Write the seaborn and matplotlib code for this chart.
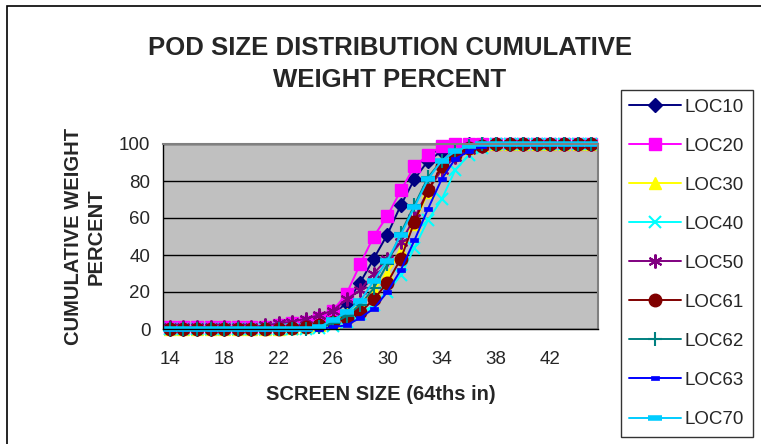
import numpy as np
import pandas as pd
import matplotlib
matplotlib.use('Agg')
import matplotlib.pyplot as plt
import seaborn as sns
from matplotlib.patches import Rectangle

# screen sizes (64ths of an inch)
sizes = list(range(14, 46))

loc10 = [0, 0, 0, 0, 0, 0, 0, 0.5, 1, 2, 3, 5, 8, 14, 25, 38,
         51, 67, 81, 91, 96, 99, 100, 100, 100, 100, 100, 100, 100, 100, 100, 100]
loc20 = [1, 1, 1, 1, 1, 1, 1, 1, 2, 3, 4, 6, 10, 19, 35, 50,
         61, 75, 88, 94, 99, 100, 100, 100, 100, 100, 100, 100, 100, 100, 100, 100]
loc30 = [0, 0, 0, 0, 0, 0, 0, 0, 0, 0.5, 1, 2, 4, 8, 13, 21,
         30, 42, 57, 74, 87, 95, 98, 99.5, 100, 100, 100, 100, 100, 100, 100, 100]
loc40 = [0, 0, 0, 0, 0, 0, 0, 0, 0, 0, 0, 0.5, 1.5, 4, 8, 13,
         20, 29, 44, 59, 70, 86, 94, 98, 100, 100, 100, 100, 100, 100, 100, 100]
loc50 = [1, 1, 1, 1, 1, 1, 1, 2, 3, 4, 5.5, 7.5, 10, 16, 21, 30,
         38, 47, 60, 75, 86, 93, 97, 99, 100, 100, 100, 100, 100, 100, 100, 100]
loc61 = [0, 0, 0, 0, 0, 0, 0, 0, 0, 0.5, 1, 2, 4, 6, 9, 16,
         25, 38, 58, 75, 88, 94, 98, 99, 100, 100, 100, 100, 100, 100, 100, 100]
loc62 = [0, 0, 0, 0, 0, 0, 0, 0, 0, 0, 0, 1, 3, 7, 13, 22,
         35, 52, 67, 82, 91, 96, 99, 100, 100, 100, 100, 100, 100, 100, 100, 100]
loc63 = [0, 0, 0, 0, 0, 0, 0, 0, 0, 0, 0, 0, 1, 2, 6, 11,
         20, 32, 48, 65, 81, 92, 96, 99, 100, 100, 100, 100, 100, 100, 100, 100]
loc70 = [0, 0, 0, 0, 0, 0, 0, 0, 0, 0, 0, 1, 5, 9, 15, 26,
         37, 51, 66, 81, 91, 96, 99, 100, 100, 100, 100, 100, 100, 100, 100, 100]

series_names = ['LOC10', 'LOC20', 'LOC30', 'LOC40', 'LOC50',
                'LOC61', 'LOC62', 'LOC63', 'LOC70']
series_vals = [loc10, loc20, loc30, loc40, loc50, loc61, loc62, loc63, loc70]

colors = ['#000080', '#FF00FF', '#FFFF00', '#00FFFF', '#800080',
          '#800000', '#008080', '#0000FF', '#00CCFF']
small_bar = [(-1, -0.5), (1, -0.5), (1, 0.5), (-1, 0.5), (-1, -0.5)]
markers = ['D', 's', '^', 'x', (6, 2, 0), 'o', '+', small_bar, '_']
msizes = [7, 9, 8, 9, 10, 9, 10, 6, 10]
mews = [1, 1, 1, 1.5, 1.5, 1, 1.5, 0.5, 4]

rows = []
for name, vals in zip(series_names, series_vals):
    for s, v in zip(sizes, vals):
        rows.append((name, s, v))
df = pd.DataFrame(rows, columns=['loc', 'size', 'pct'])

sns.set_style('white')
plt.rcParams['font.family'] = ['Liberation Sans', 'DejaVu Sans']

fig = plt.figure(figsize=(7.61, 4.44), dpi=100)
ax = fig.add_axes([163 / 761, 1 - 329 / 444, 435 / 761, 185 / 444])
ax.set_facecolor('#C0C0C0')

for name, c, m, ms, mw in zip(series_names, colors, markers, msizes, mews):
    sub = df[df['loc'] == name]
    sns.lineplot(data=sub, x='size', y='pct', ax=ax, color=c, marker=m,
                 markersize=ms, markeredgecolor=c, markeredgewidth=mw,
                 linewidth=1.4, label=name, legend=False, clip_on=False)

ax.set_xlim(13.5, 45.5)
ax.set_ylim(0, 100)
ax.set_yticks(range(0, 101, 20))
ax.yaxis.grid(True, color='black', linewidth=1)
ax.set_axisbelow(True)

# tick marks between categories, labels every 4th
ax.set_xticks(np.arange(13.5, 46, 1))
ax.set_xticklabels([])
ax.set_xticks(range(14, 46, 4), minor=True)
ax.set_xticklabels([str(v) for v in range(14, 46, 4)], minor=True)
ax.tick_params(axis='x', which='major', length=5, width=1, color='black', direction='out')
ax.tick_params(axis='x', which='minor', length=0, pad=16, labelsize=13.5)
ax.tick_params(axis='y', length=5, width=1, color='black', direction='out', labelsize=13.5, pad=4)

for side in ['left', 'bottom']:
    ax.spines[side].set_color('black')
    ax.spines[side].set_linewidth(1)
for side in ['top', 'right']:
    ax.spines[side].set_color('#808080')
    ax.spines[side].set_linewidth(1.5)

ax.set_xlabel('SCREEN SIZE (64ths in)', fontsize=14.5, fontweight='bold', labelpad=12)
ax.set_ylabel('CUMULATIVE WEIGHT\nPERCENT', fontsize=14.5, fontweight='bold', labelpad=10)

fig.text(390 / 761, 1 - 64 / 444, 'POD SIZE DISTRIBUTION CUMULATIVE\nWEIGHT PERCENT',
         ha='center', va='center', fontsize=18.5, fontweight='bold', linespacing=1.45)

handles = ax.get_lines()[:len(series_names)]
leg = fig.legend(handles, series_names, loc='upper left',
                 bbox_to_anchor=(621 / 761, 1 - 90 / 444), fontsize=13.5,
                 frameon=True, fancybox=False, edgecolor='black',
                 handlelength=2.75, labelspacing=1.17, borderpad=0.45,
                 handletextpad=0.2, borderaxespad=0)
leg.get_frame().set_linewidth(1)

fig.patches.append(Rectangle((7 / 761, -0.05), 1.0, 1 - 6 / 444 + 0.05,
                             transform=fig.transFigure, fill=False,
                             edgecolor='black', linewidth=1.2))

fig.savefig('out.png', dpi=100)
